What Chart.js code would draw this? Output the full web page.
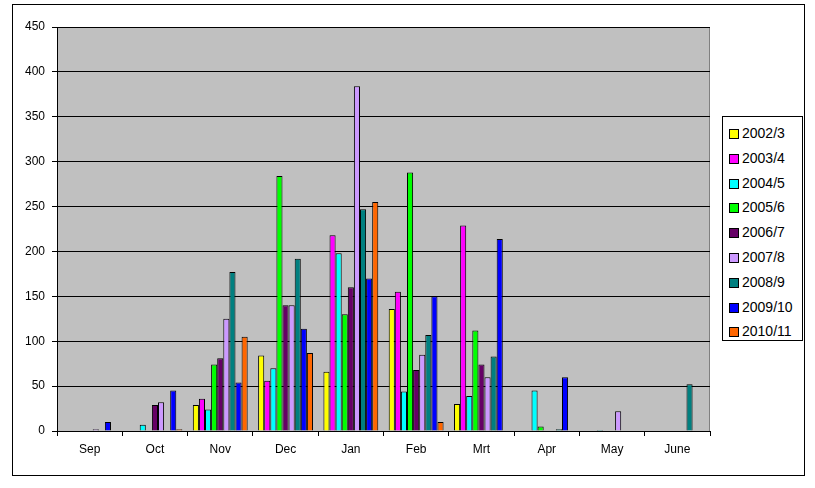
<!DOCTYPE html>
<html>
<head>
<meta charset="utf-8">
<script src="https://cdn.jsdelivr.net/npm/chart.js@4.4.1/dist/chart.umd.min.js"></script>
<style>
  html, body { margin: 0; padding: 0; background: #fff; }
  #wrap { position: relative; width: 815px; height: 488px; overflow: hidden; }
  #frame { position: absolute; left: 12px; top: 4px; width: 793px; height: 472px; box-sizing: border-box; border: 1px solid #000; pointer-events: none; }
  #dash { position: absolute; left: 0; top: 0; }
  #legenda { position: absolute; left: 722px; top: 116px; width: 81px; height: 225px; box-sizing: border-box;
    border: 1px solid #000; background: #fff; font-family: "Liberation Sans", Arial, sans-serif; font-size: 14px; padding-top: 6px; }
  .item { height: 24.8px; line-height: 20px; position: relative; white-space: nowrap; }
  .item span.box { position: absolute; left: 6px; top: 6px; width: 8px; height: 8px; border: 1px solid #000; }
  .item span.txt { position: absolute; left: 19px; top: 0; }
</style>
</head>
<body>
<div id="wrap">
  <canvas id="dash" width="815" height="488"></canvas>
  <div id="frame"></div>
  <div id="legenda"></div>
</div>
<script>
(function (win, doc) {
  'use strict';

  // maanden (categorieen)
  let maanden = ['Sep', 'Oct', 'Nov', 'Dec', 'Jan', 'Feb', 'Mrt', 'Apr', 'May', 'June'];

  // seizoenen
  let seizoenen = ['2002/3', '2003/4', '2004/5', '2005/6', '2006/7', '2007/8', '2008/9', '2009/10', '2010/11'];
  let kleuren = ['#FFFF00', '#FF00FF', '#00FFFF', '#00FF00', '#660066', '#CC99FF', '#008080', '#0000FF', '#FF6600'];

  // waarden per seizoen (null = geen balk)
  let s2002 = [null, null, 29, 84, 66, 136, 30, null, null, null];
  let s2003 = [null, null, 36, 56, 218, 155, 229, null, null, null];
  let s2004 = [null, 7, 24, 70, 198, 44, 39, 45, 1, null];
  let s2005 = [null, null, 74, 284, 130, 288, 112, 5, null, null];
  let s2006 = [null, 29, 81, 140, 160, 68, 74, null, null, null];
  let s2007 = [2, 32, 125, 140, 384, 85, 60, null, 22, null];
  let s2008 = [null, null, 177, 192, 247, 107, 83, 2, null, 52];
  let s2009 = [10, 45, 54, 114, 170, 150, 214, 60, null, null];
  let s2010 = [null, 2, 105, 87, 255, 10, null, null, null, null];

  let reeksen = [s2002, s2003, s2004, s2005, s2006, s2007, s2008, s2009, s2010];

  // y-as
  let yMin = 0, yMax = 450, yStap = 50;

  let lettertype = '"Liberation Sans", Arial, sans-serif';

  let datasets = reeksen.map(function (r, i) {
    return {
      label: seizoenen[i],
      data: r,
      backgroundColor: kleuren[i],
      borderColor: '#000',
      borderWidth: 1,
      borderSkipped: 'bottom',
      barPercentage: 1.0,
      categoryPercentage: 0.84
    };
  });

  // grijze achtergrond van het plotgebied
  let plotAchtergrond = {
    id: 'plotAchtergrond',
    beforeDraw: function (chart) {
      let ctx = chart.ctx;
      let a = chart.chartArea;
      ctx.save();
      ctx.fillStyle = '#C0C0C0';
      ctx.fillRect(a.left, a.top, a.right - a.left, a.bottom - a.top);
      ctx.strokeStyle = '#808080';
      ctx.lineWidth = 1;
      ctx.strokeRect(Math.round(a.left) + 0.5, Math.round(a.top) + 0.5, Math.round(a.right - a.left) - 1, Math.round(a.bottom - a.top));
      ctx.restore();
    }
  };

  let dash = doc.getElementById('dash');
  let grafiek = new Chart(dash, {
    type: 'bar',
    data: { labels: maanden, datasets: datasets },
    plugins: [plotAchtergrond],
    options: {
      responsive: false,
      animation: false,
      devicePixelRatio: 1,
      layout: { padding: { left: 0, top: 27, right: 105, bottom: 0 } },
      plugins: {
        legend: { display: false },
        tooltip: { enabled: false }
      },
      scales: {
        x: {
          grid: { display: true, drawOnChartArea: false, drawTicks: true, tickLength: 5, color: '#000', offset: true },
          border: { display: true, color: '#000' },
          ticks: { color: '#000', font: { family: lettertype, size: 12 }, padding: 6, maxRotation: 0 },
          afterFit: function (s) { s.height = 57; }
        },
        y: {
          min: yMin,
          max: yMax,
          grid: { color: '#000', tickLength: 5 },
          border: { display: true, color: '#000' },
          ticks: { stepSize: yStap, color: '#000', font: { family: lettertype, size: 12 }, padding: 7 },
          afterFit: function (s) { s.width = 57; }
        }
      }
    }
  });

  // legenda als html
  let legenda = doc.getElementById('legenda');
  seizoenen.forEach(function (naam, i) {
    let item = doc.createElement('div');
    item.className = 'item';
    let box = doc.createElement('span');
    box.className = 'box';
    box.style.background = kleuren[i];
    let txt = doc.createElement('span');
    txt.className = 'txt';
    txt.textContent = naam;
    item.appendChild(box);
    item.appendChild(txt);
    legenda.appendChild(item);
  });
})(window, document);
</script>
</body>
</html>
